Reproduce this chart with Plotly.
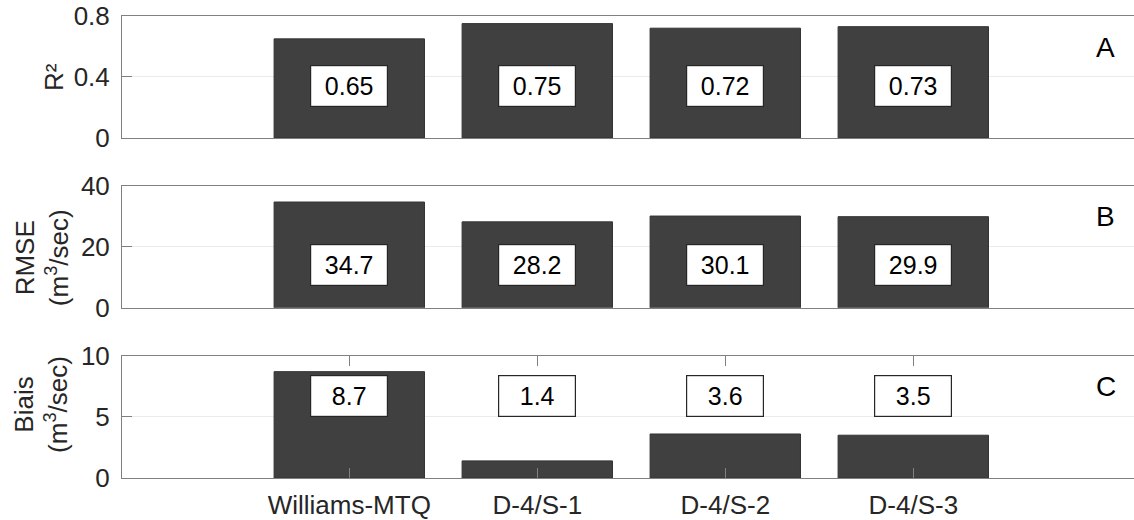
import plotly.graph_objects as go

# Model names and skill scores
models = ["Williams-MTQ", "D-4/S-1", "D-4/S-2", "D-4/S-3"]
r2_values = [0.65, 0.75, 0.72, 0.73]
rmse_values = [34.7, 28.2, 30.1, 29.9]
bias_values = [8.7, 1.4, 3.6, 3.5]

panel_letters = ["A", "B", "C"]
r2_ticks = [0, 0.4, 0.8]
rmse_ticks = [0, 20, 40]
bias_ticks = [0, 5, 10]

FONT = "Liberation Sans, Arial, Helvetica, sans-serif"
BAR_COLOR = "#404040"
TEXT_COLOR = "#262626"
AXIS_COLOR = "#808080"
GRID_COLOR = "#ebebeb"

W, H = 1134, 520
M_L, M_R, M_T, M_B = 122, 0, 16, 42

xpos = list(range(1, len(models) + 1))
x_range = [-0.209, 5.174]

panels = [
    dict(values=r2_values, ticks=r2_ticks, fmt="{:.2f}", label_y=0.34,
         ylabel="R²", ylab_x=54, ylab_y=0.5, domain=[0.7361, 1.0]),
    dict(values=rmse_values, ticks=rmse_ticks, fmt="{:.1f}", label_y=14.2,
         ylabel="RMSE<br>(m<sup>3</sup>/sec)", ylab_x=42, ylab_y=0.407,
         domain=[0.3684, 0.6323]),
    dict(values=bias_values, ticks=bias_ticks, fmt="{:.1f}", label_y=6.7,
         ylabel="Biais<br>(m<sup>3</sup>/sec)", ylab_x=41, ylab_y=0.598,
         domain=[0.0, 0.2646]),
]

fig = go.Figure()
layout = dict(
    width=W, height=H,
    margin=dict(l=M_L, r=M_R, t=M_T, b=M_B, pad=0, autoexpand=False),
    paper_bgcolor="white", plot_bgcolor="white",
    showlegend=False,
    font=dict(family=FONT, size=25, color=TEXT_COLOR),
    bargap=0.2,
)
annotations = []
plot_w = W - M_L - M_R

for i, p in enumerate(panels):
    n = "" if i == 0 else str(i + 1)
    xa, ya = "x" + n, "y" + n
    last = i == len(panels) - 1
    fig.add_trace(go.Bar(
        x=xpos, y=p["values"], xaxis=xa, yaxis=ya, width=0.8,
        marker=dict(color=BAR_COLOR, line=dict(color="#333333", width=1)),
        hoverinfo="skip",
    ))
    layout["xaxis" + n] = dict(
        domain=[0, 1], anchor=ya, range=x_range, automargin=False,
        tickmode="array", tickvals=xpos, ticktext=models,
        showticklabels=last,
        ticks="inside" if last else "", ticklen=10, tickcolor=AXIS_COLOR,
        showline=True, linecolor=AXIS_COLOR, linewidth=1,
        mirror="ticks" if last else True,
        showgrid=False, zeroline=False,
        tickfont=dict(family=FONT, size=26, color=TEXT_COLOR),
        ticklabelstandoff=4,
    )
    layout["yaxis" + n] = dict(
        domain=p["domain"], anchor=xa, automargin=False,
        range=[p["ticks"][0], p["ticks"][-1]],
        tickmode="array", tickvals=p["ticks"],
        ticktext=[f"{t:g}" for t in p["ticks"]],
        ticks="inside", ticklen=10, tickcolor=AXIS_COLOR,
        showline=True, linecolor=AXIS_COLOR, linewidth=1, mirror=False,
        showgrid=True, gridcolor=GRID_COLOR, gridwidth=1,
        zeroline=False,
        tickfont=dict(family=FONT, size=26, color=TEXT_COLOR),
        ticklabelstandoff=6,
    )
    # boxed value labels
    for xv, v in zip(xpos, p["values"]):
        annotations.append(dict(
            x=xv, y=p["label_y"], xref=xa, yref=ya,
            text=p["fmt"].format(v), showarrow=False,
            font=dict(family=FONT, size=25, color="black"),
            bgcolor="white", bordercolor=TEXT_COLOR, borderwidth=1.2, borderpad=0,
            width=76, height=40, xanchor="center", yanchor="middle",
        ))
    # panel letter
    annotations.append(dict(
        x=0.972, y=0.745, xref=xa + " domain", yref=ya + " domain",
        text=panel_letters[i], showarrow=False,
        font=dict(family=FONT, size=28, color="black"),
        xanchor="center", yanchor="middle",
    ))
    # y-axis title
    annotations.append(dict(
        x=(p["ylab_x"] - M_L) / plot_w, y=p["ylab_y"],
        xref="paper", yref=ya + " domain",
        text=p["ylabel"], showarrow=False, textangle=-90,
        font=dict(family=FONT, size=26, color=TEXT_COLOR),
        xanchor="center", yanchor="middle",
    ))

layout["annotations"] = annotations
fig.update_layout(**layout)
fig.write_html("out.html")
